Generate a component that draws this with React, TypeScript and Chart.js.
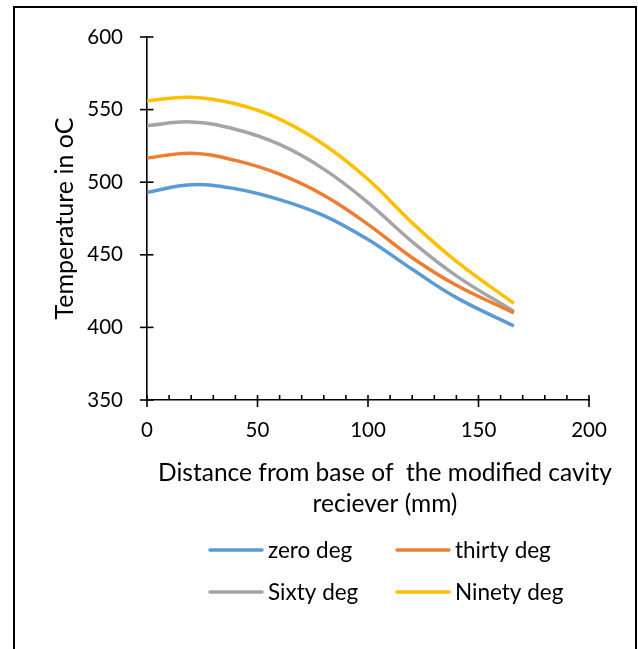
import React, { useEffect, useRef } from "react";
import { Chart, registerables } from "chart.js";

Chart.register(...registerables);

// ---- data ----
const distanceMm = [0, 20, 40, 60, 80, 100, 120, 140, 166];
const zeroDeg = [493, 498.3, 495.5, 488, 477, 460.5, 440, 420.5, 401];
const thirtyDeg = [516.7, 520, 515, 505.5, 491, 471, 448, 429, 410];
const sixtyDeg = [539, 541.5, 536.5, 526, 509, 486, 459, 435.5, 411];
const ninetyDeg = [556, 558.5, 554, 543.5, 526, 502, 472, 445.5, 416.5];

const seriesLabels = ["zero deg", "thirty deg", "Sixty deg", "Ninety deg"];
const seriesColors = ["#5B9BD5", "#ED7D31", "#A5A5A5", "#FFC000"];

const xTitleLines = ["Distance from base of  the modified cavity", "reciever (mm)"];
const yTitle = "Temperature in oC";

const xMin = 0, xMax = 200, xStep = 50, xMinorStep = 10;
const yMin = 350, yMax = 600, yStep = 50;

const FONT = "Lato, 'Open Sans', sans-serif";

const toPoints = (ys: number[]) => distanceMm.map((x, i) => ({ x, y: ys[i] }));

const decorPlugin = {
  id: "decor",
  afterDraw(chart: any) {
    const { ctx, chartArea, scales } = chart;
    const xs = scales.x;
    const ys = scales.y;
    ctx.save();
    ctx.strokeStyle = "#000";
    ctx.lineWidth = 1.6;
    // y major ticks crossing the axis
    ys.ticks.forEach((t: any) => {
      const py = ys.getPixelForValue(t.value);
      ctx.beginPath();
      ctx.moveTo(chartArea.left - 7, py);
      ctx.lineTo(chartArea.left + 6.5, py);
      ctx.stroke();
    });
    // x major ticks crossing
    xs.ticks.forEach((t: any) => {
      const px = xs.getPixelForValue(t.value);
      ctx.beginPath();
      ctx.moveTo(px, chartArea.bottom - 5);
      ctx.lineTo(px, chartArea.bottom + 7);
      ctx.stroke();
    });
    // x minor ticks inside
    for (let v = xMin; v <= xMax; v += xMinorStep) {
      if (v % xStep === 0) continue;
      const px = xs.getPixelForValue(v);
      ctx.beginPath();
      ctx.moveTo(px, chartArea.bottom - 5);
      ctx.lineTo(px, chartArea.bottom);
      ctx.stroke();
    }
    // x axis title (two lines)
    ctx.fillStyle = "#000";
    ctx.font = `24.5px ${FONT}`;
    ctx.textAlign = "center";
    ctx.textBaseline = "middle";
    const cx = (chartArea.left + chartArea.right) / 2 + 17;
    xTitleLines.forEach((line, i) => {
      ctx.fillText(line, cx, chartArea.bottom + 73 + i * 31);
    });
    // legend in a 2x2 grid
    ctx.font = `22.5px ${FONT}`;
    ctx.textAlign = "left";
    ctx.lineCap = "round";
    chart.data.datasets.forEach((ds: any, i: number) => {
      const col = i % 2;
      const row = Math.floor(i / 2);
      const lx = chartArea.left + 63 + col * 187;
      const ly = chartArea.bottom + 150 + row * 42;
      ctx.strokeStyle = ds.borderColor;
      ctx.lineWidth = 3.5;
      ctx.beginPath();
      ctx.moveTo(lx, ly);
      ctx.lineTo(lx + 52, ly);
      ctx.stroke();
      ctx.fillStyle = "#000";
      ctx.fillText(ds.label, lx + 58, ly + 1);
    });
    ctx.restore();
  },
};

export default function App() {
  const canvasRef = useRef<HTMLCanvasElement | null>(null);

  useEffect(() => {
    if (!canvasRef.current) return;
    const series = [zeroDeg, thirtyDeg, sixtyDeg, ninetyDeg];
    const chart = new Chart(canvasRef.current, {
      type: "scatter",
      data: {
        datasets: series.map((s, i) => ({
          label: seriesLabels[i],
          data: toPoints(s),
          showLine: true,
          borderColor: seriesColors[i],
          backgroundColor: seriesColors[i],
          borderWidth: 3.5,
          pointRadius: 0,
          tension: 0.4,
          fill: false,
        })),
      },
      options: {
        responsive: false,
        animation: false,
        layout: { padding: { top: 37, right: 49, left: 0, bottom: 0 } },
        plugins: {
          legend: { display: false },
          tooltip: { enabled: false },
        },
        scales: {
          x: {
            type: "linear",
            min: xMin,
            max: xMax,
            ticks: { stepSize: xStep, color: "#000", font: { family: FONT, size: 20.5 }, padding: 18 },
            grid: { display: false, drawTicks: false },
            border: { display: true, color: "#000", width: 1.6 },
            afterFit: (scale: any) => {
              scale.height = 249;
            },
          },
          y: {
            type: "linear",
            min: yMin,
            max: yMax,
            ticks: { stepSize: yStep, color: "#000", font: { family: FONT, size: 20.5 }, padding: 24 },
            grid: { display: false, drawTicks: false },
            border: { display: true, color: "#000", width: 1.6 },
            title: {
              display: true,
              text: yTitle,
              color: "#000",
              font: { family: FONT, size: 25 },
              padding: { top: 50, bottom: 0 },
            },
            afterFit: (scale: any) => {
              scale.width = 147;
            },
          },
        },
      },
      plugins: [decorPlugin],
    });
    return () => chart.destroy();
  }, []);

  return (
    <div style={{ position: "fixed", left: 0, top: 0, width: 638, height: 649, background: "#fff" }}>
      <canvas ref={canvasRef} width={638} height={649} style={{ position: "absolute", left: 0, top: 0 }} />
      <div
        style={{
          position: "absolute",
          left: 13,
          top: 6,
          width: 624,
          height: 643,
          boxSizing: "border-box",
          border: "2px solid #000",
          borderBottom: "none",
          pointerEvents: "none",
        }}
      />
    </div>
  );
}
